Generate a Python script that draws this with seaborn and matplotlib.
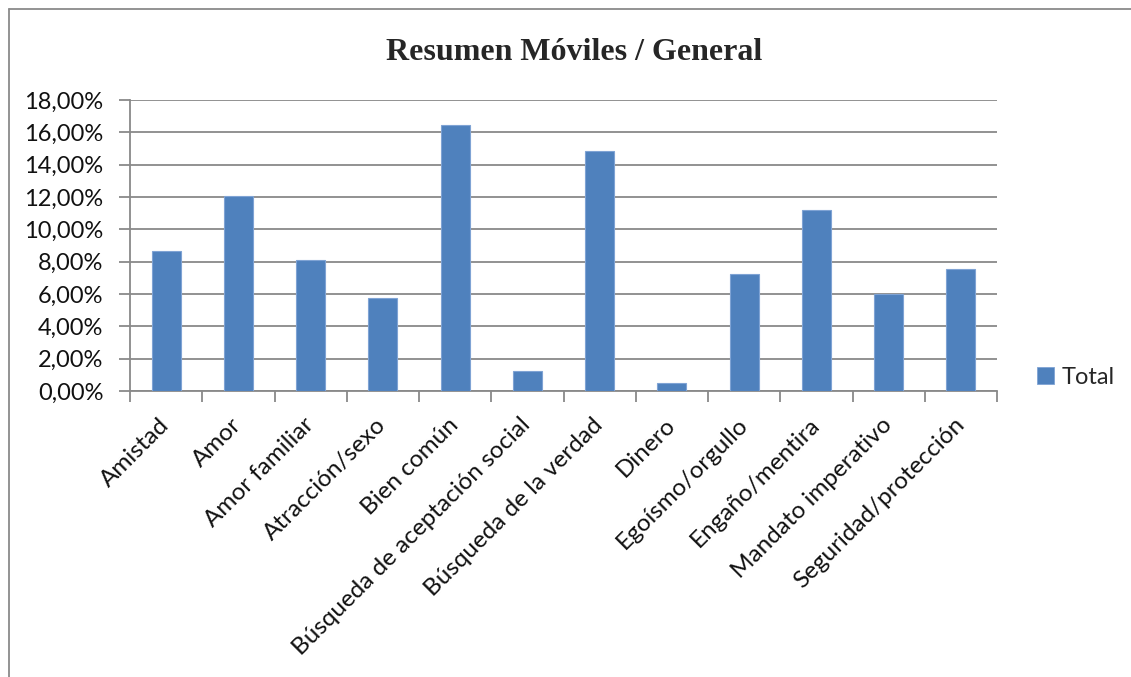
import matplotlib
matplotlib.use("Agg")
import matplotlib.pyplot as plt
import seaborn as sns
import pandas as pd
from matplotlib.ticker import FuncFormatter, FixedLocator
from matplotlib.patches import Patch
from matplotlib.lines import Line2D

categories = ["Amistad", "Amor", "Amor familiar", "Atracción/sexo", "Bien común",
              "Búsqueda de aceptación social", "Búsqueda de la verdad", "Dinero",
              "Egoísmo/orgullo", "Engaño/mentira", "Mandato imperativo",
              "Seguridad/protección"]
values = [8.66, 12.08, 8.10, 5.77, 16.45, 1.24, 14.82, 0.52, 7.22, 11.22, 5.98, 7.57]
series_name = "Total"
title = "Resumen Móviles / General"
yticks = [0, 2, 4, 6, 8, 10, 12, 14, 16, 18]

sns.set_theme(style="white")
plt.rcParams['font.family'] = ['Lato', 'DejaVu Sans']

df = pd.DataFrame({"cat": categories, "val": values})

W, H = 1131, 677
fig = plt.figure(figsize=(W / 100, H / 100), dpi=100)
fig.patch.set_facecolor("white")
ax = fig.add_axes([130 / W, 1 - 391 / H, (997 - 130) / W, (391 - 100) / H])

bar_color = "#4F81BD"
grid_color = "#898989"

sns.barplot(data=df, x="cat", y="val", color=bar_color, width=0.4,
            edgecolor="#7FA3D4", linewidth=0.8, saturation=1, ax=ax, zorder=3)

ax.set_ylim(0, 18)
ax.set_xlim(-0.5, len(categories) - 0.5)
ax.set_yticks(yticks)
ax.yaxis.set_major_formatter(FuncFormatter(lambda v, p: f"{v:.2f}%".replace(".", ",")))
ax.yaxis.grid(True, color=grid_color, linewidth=1.3, zorder=0)
ax.xaxis.grid(False)
ax.set_axisbelow(True)

# category boundary ticks (major) and centered labels (minor)
ax.xaxis.set_major_locator(FixedLocator([i - 0.5 for i in range(len(categories) + 1)]))
ax.set_xticklabels([])
ax.set_xticks(range(len(categories)), minor=True)
ax.set_xticklabels(categories, minor=True, rotation=45, ha="right", va="center",
                   rotation_mode="anchor", fontsize=17.5, color="#111111")
ax.tick_params(axis="x", which="major", direction="out", length=8, width=1.3,
               color=grid_color, bottom=True)
ax.tick_params(axis="x", which="minor", length=0, pad=22, bottom=True)
ax.tick_params(axis="y", direction="out", length=8, width=1.3, color=grid_color,
               left=True, pad=11, labelsize=17, labelcolor="#111111")

ax.set_xlabel("")
ax.set_ylabel("")
for s in ["top", "right"]:
    ax.spines[s].set_visible(False)
for s in ["left", "bottom"]:
    ax.spines[s].set_color(grid_color)
    ax.spines[s].set_linewidth(1.3)

fig.text(574 / W, 1 - 52 / H, title, ha="center", va="center",
         fontsize=23, fontweight="bold", family=["Liberation Serif", "DejaVu Serif"])

handle = Patch(facecolor=bar_color, edgecolor="#7FA3D4", linewidth=0.6, label=series_name)
fig.legend(handles=[handle], loc="center left", bbox_to_anchor=(1037 / W, 1 - 377 / H),
           frameon=False, fontsize=17, handlelength=0.7, handleheight=0.7,
           handletextpad=0.35, borderpad=0, borderaxespad=0)

# outer chart border (left and top visible)
fig.add_artist(Line2D([8.5 / W, 8.5 / W], [0, 1 - 9 / H], transform=fig.transFigure,
                      color="#8a8a8a", linewidth=1.3))
fig.add_artist(Line2D([8.5 / W, 1], [1 - 9 / H, 1 - 9 / H], transform=fig.transFigure,
                      color="#8a8a8a", linewidth=1.3))

fig.savefig("out.png", dpi=100, facecolor="white")
